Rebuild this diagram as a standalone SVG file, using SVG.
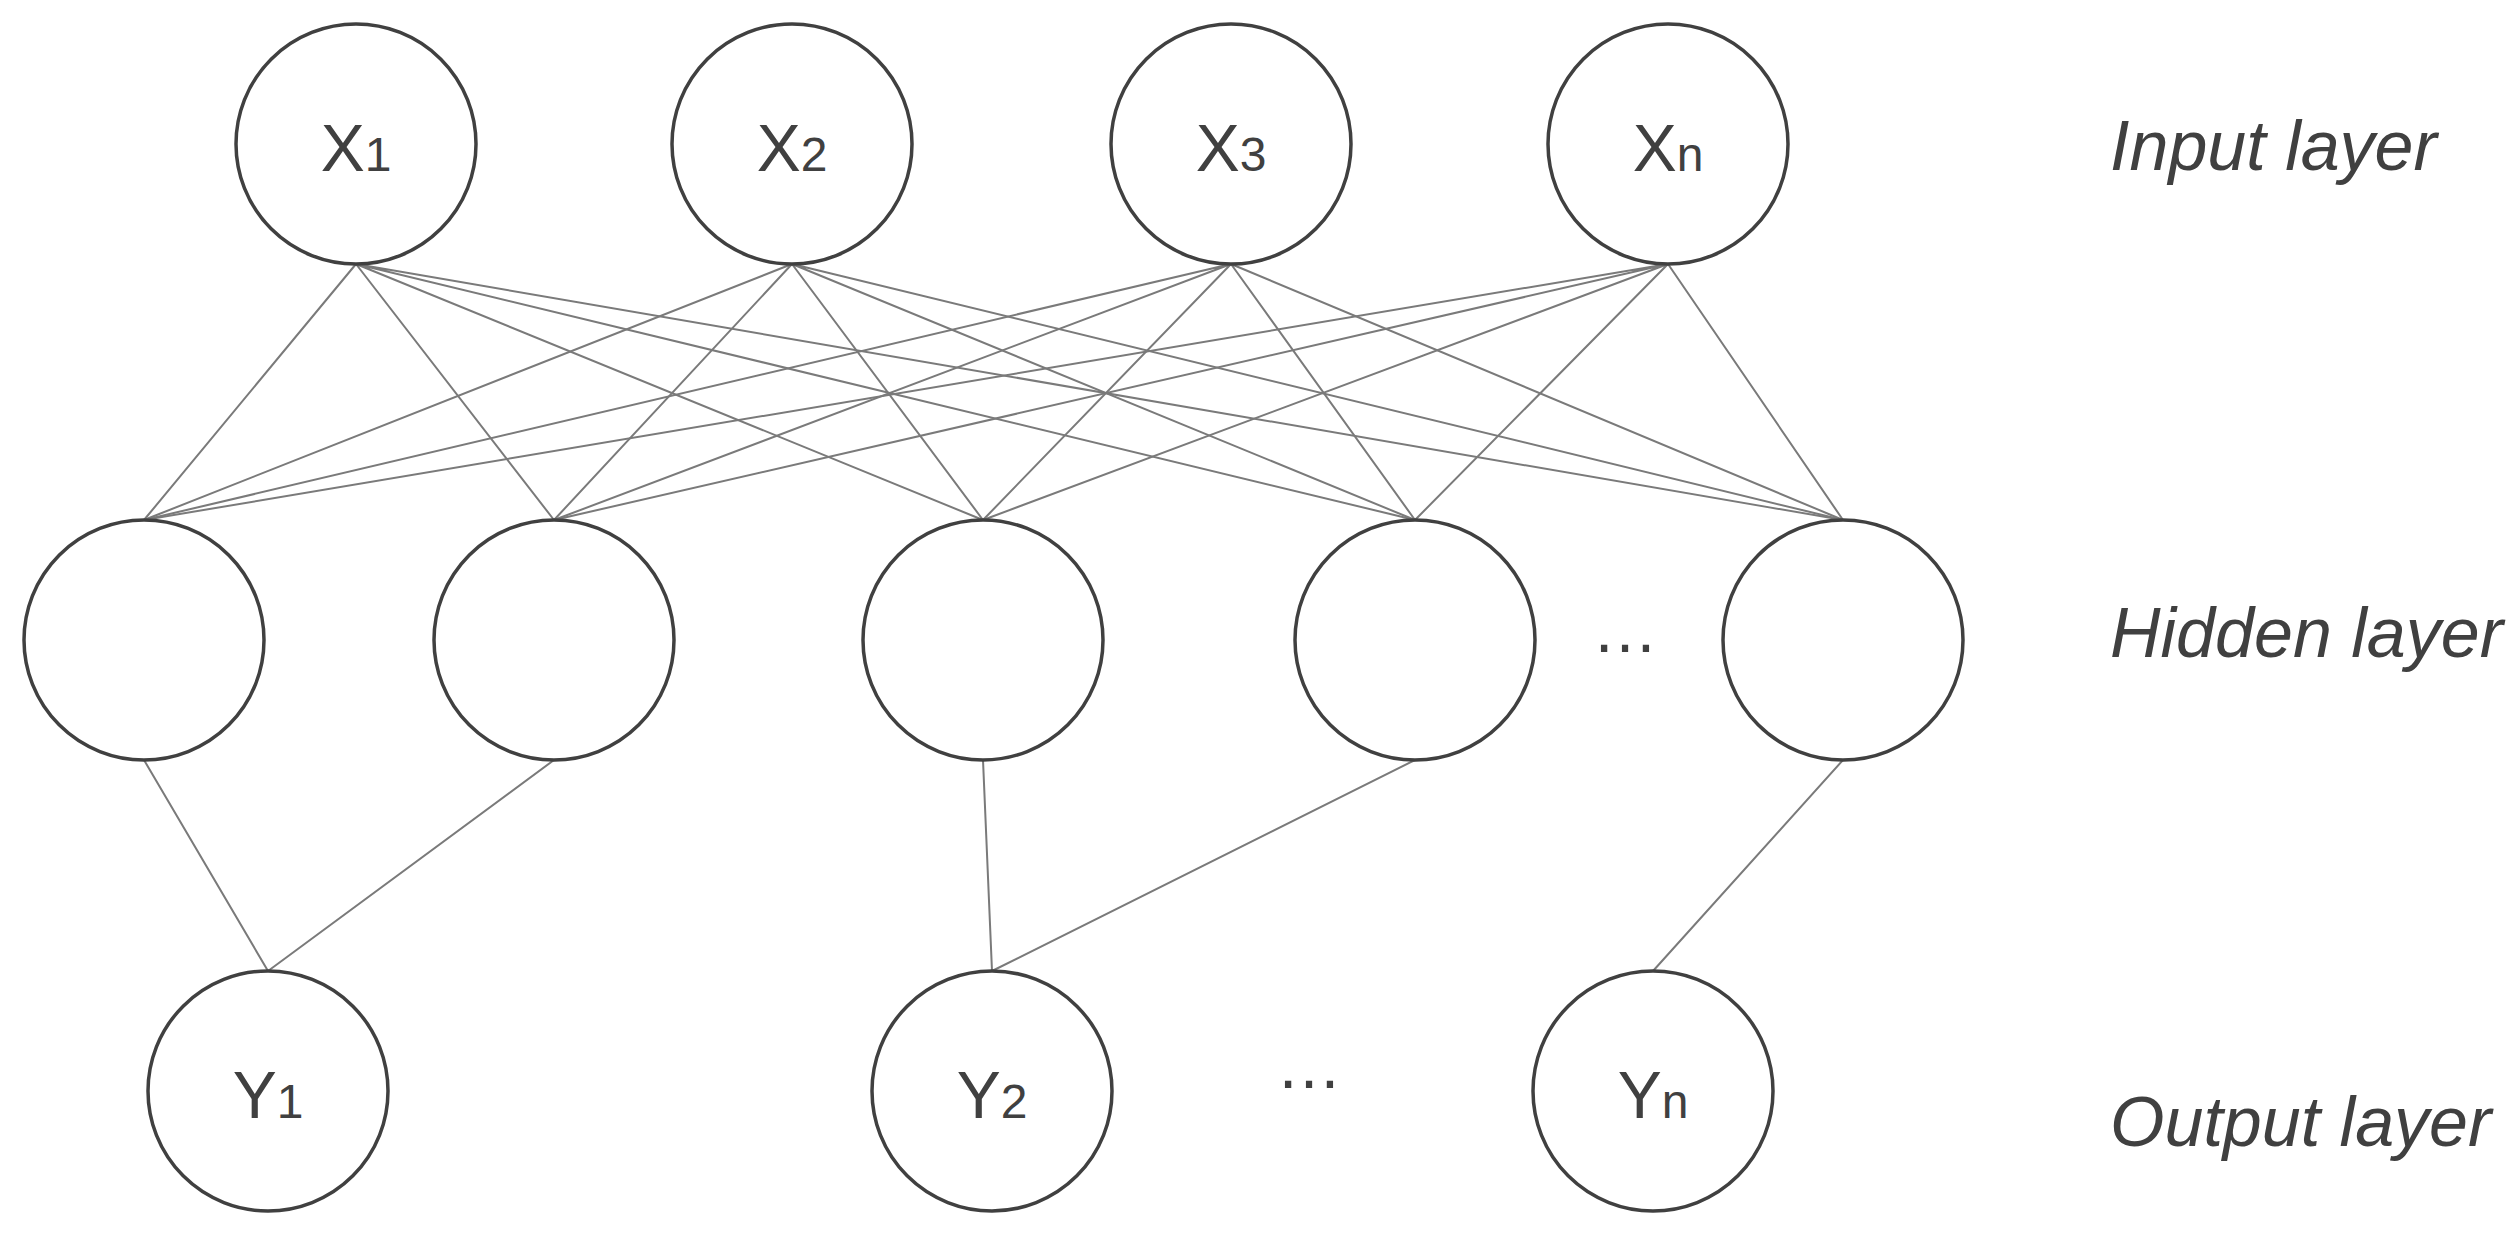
<svg xmlns="http://www.w3.org/2000/svg" width="2510" height="1236" viewBox="0 0 2510 1236">
<style>
.node{fill:#fff;stroke:#404040;stroke-width:3.5}
.lbl{font-family:"Liberation Sans",Arial,sans-serif;font-size:66px;fill:#404040;text-anchor:middle}
.sub{font-size:48px}
.layer{font-family:"Liberation Sans",Arial,sans-serif;font-size:70px;font-style:italic;fill:#404040}
.edge{stroke:#7a7a7a;stroke-width:2;fill:none}
</style>
<rect width="2510" height="1236" fill="#fff"/>
<g id="connectors">
<path class="edge" d="M356 264L144 520M356 264L554 520M356 264L983 520M356 264L1415 520M356 264L1843 520"/>
<path class="edge" d="M792 264L144 520M792 264L554 520M792 264L983 520M792 264L1415 520M792 264L1843 520"/>
<path class="edge" d="M1231 264L144 520M1231 264L554 520M1231 264L983 520M1231 264L1415 520M1231 264L1843 520"/>
<path class="edge" d="M1668 264L144 520M1668 264L554 520M1668 264L983 520M1668 264L1415 520M1668 264L1843 520"/>
<path class="edge" d="M144 760L268 971M554 760L268 971M983 760L992 971M1415 760L992 971M1843 760L1653 971"/>
</g>
<g id="x1"><circle class="node" cx="356" cy="144" r="120"/><text class="lbl" x="356" y="171">X<tspan class="sub">1</tspan></text></g>
<g id="x2"><circle class="node" cx="792" cy="144" r="120"/><text class="lbl" x="792" y="171">X<tspan class="sub">2</tspan></text></g>
<g id="x3"><circle class="node" cx="1231" cy="144" r="120"/><text class="lbl" x="1231" y="171">X<tspan class="sub">3</tspan></text></g>
<g id="xn"><circle class="node" cx="1668" cy="144" r="120"/><text class="lbl" x="1668" y="171">X<tspan class="sub">n</tspan></text></g>
<g id="h1"><circle class="node" cx="144" cy="640" r="120"/></g>
<g id="h2"><circle class="node" cx="554" cy="640" r="120"/></g>
<g id="h3"><circle class="node" cx="983" cy="640" r="120"/></g>
<g id="h4"><circle class="node" cx="1415" cy="640" r="120"/></g>
<g id="h5"><circle class="node" cx="1843" cy="640" r="120"/></g>
<g id="y1"><circle class="node" cx="268" cy="1091" r="120"/><text class="lbl" x="268" y="1118">Y<tspan class="sub">1</tspan></text></g>
<g id="y2"><circle class="node" cx="992" cy="1091" r="120"/><text class="lbl" x="992" y="1118">Y<tspan class="sub">2</tspan></text></g>
<g id="yn"><circle class="node" cx="1653" cy="1091" r="120"/><text class="lbl" x="1653" y="1118">Y<tspan class="sub">n</tspan></text></g>
<g id="dots">
<text class="lbl" x="1625" y="652">…</text>
<text class="lbl" x="1309" y="1088">…</text>
</g>
<g id="layers">
<text class="layer" x="2110" y="170">Input layer</text>
<text class="layer" x="2110" y="657">Hidden layer</text>
<text class="layer" x="2110" y="1146">Output layer</text>
</g>
</svg>
